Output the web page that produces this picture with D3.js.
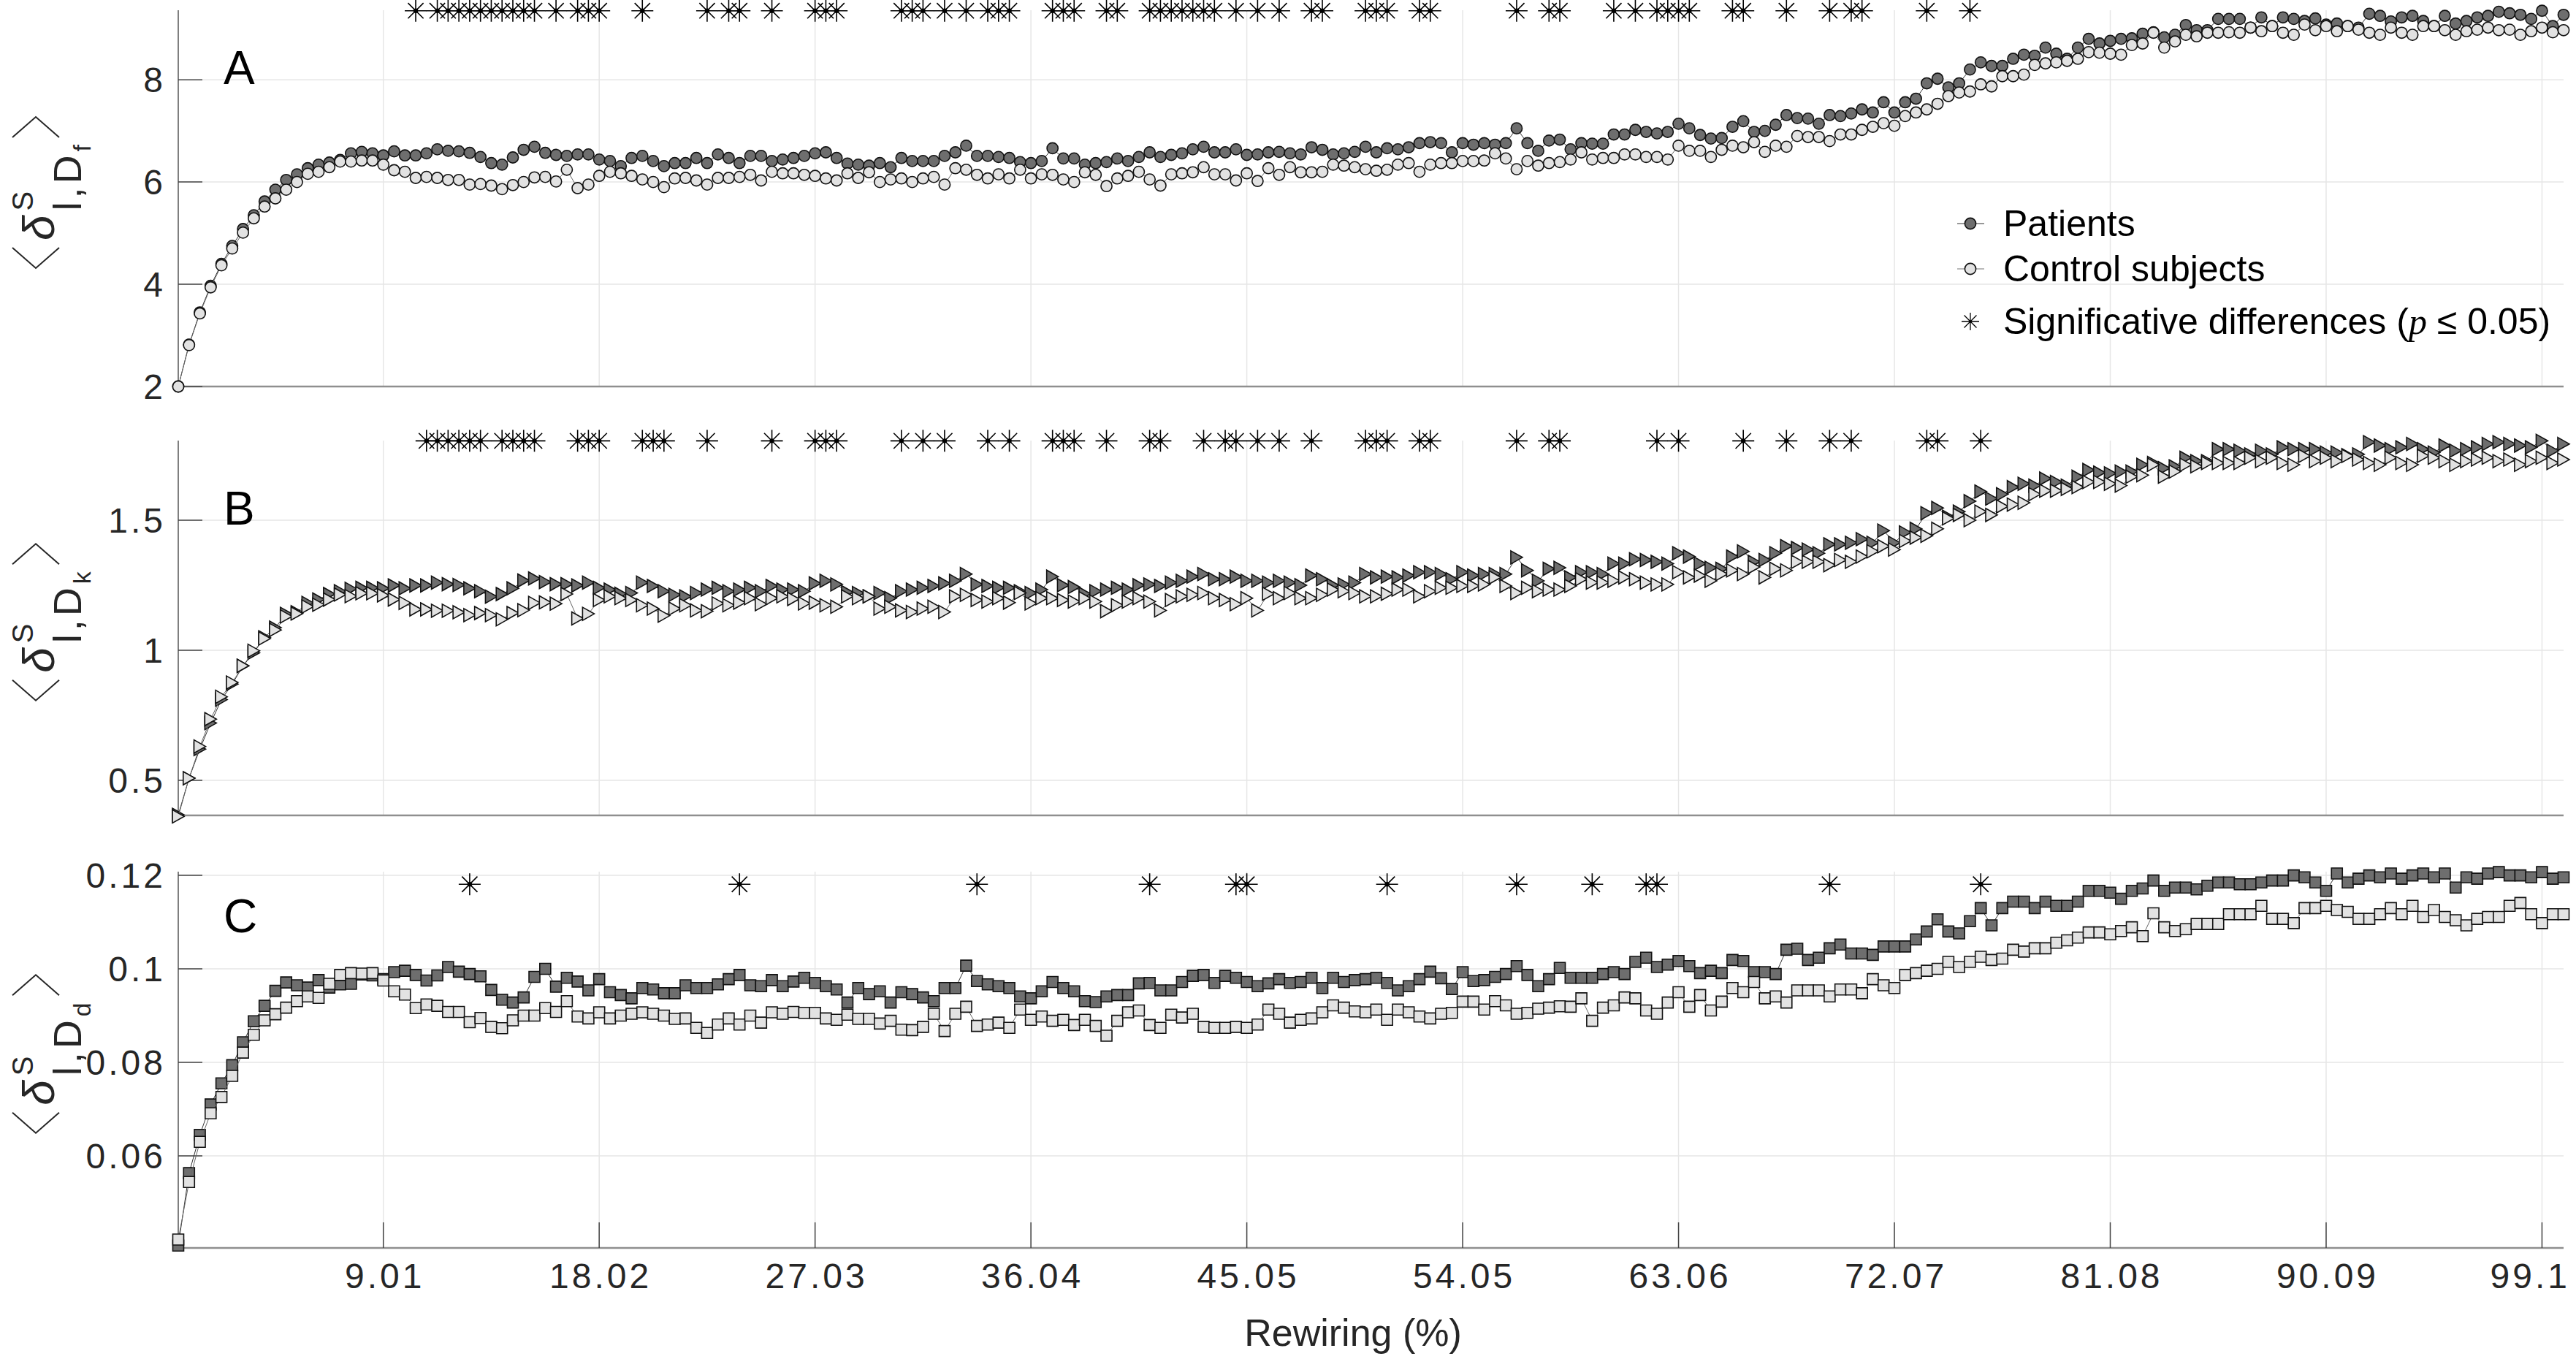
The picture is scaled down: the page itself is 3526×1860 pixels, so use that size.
<!DOCTYPE html>
<html>
<head>
<meta charset="utf-8">
<script src="https://cdn.jsdelivr.net/npm/d3@7"></script>
<style>
  html, body { margin: 0; padding: 0; background: #ffffff; }
  svg { display: block; }
  text { font-family: "Liberation Sans", Arial, Helvetica, sans-serif; }
</style>
</head>
<body>
<script>
// ---------------- DATA ----------------
const nSteps = 222;                       // rewiring steps (100/222 % each)
const rewiring = d3.range(1, nSteps + 1).map(i => i * 100 / nSteps);   // x values (%)

const xTickSteps  = [20, 40, 60, 80, 100, 120, 140, 160, 180, 200, 220];
const xTickLabels = ["9.01","18.02","27.03","36.04","45.05","54.05","63.06","72.07","81.08","90.09","99.1"];

// Panel A : <delta^S_{l,D_f}>
const fPatients = [
2.00,2.82,3.45,3.97,4.40,4.75,5.08,5.35,5.62,5.85,
6.04,6.15,6.27,6.34,6.38,6.43,6.56,6.59,6.56,6.52,
6.60,6.52,6.52,6.56,6.64,6.61,6.60,6.57,6.49,6.37,
6.34,6.48,6.63,6.69,6.57,6.53,6.51,6.54,6.54,6.44,
6.41,6.31,6.47,6.51,6.41,6.31,6.37,6.37,6.47,6.37,
6.54,6.47,6.37,6.51,6.51,6.41,6.44,6.47,6.51,6.56,
6.58,6.47,6.36,6.34,6.32,6.37,6.29,6.47,6.41,6.41,
6.41,6.51,6.58,6.71,6.51,6.51,6.49,6.47,6.39,6.37,
6.41,6.66,6.46,6.46,6.34,6.37,6.39,6.46,6.41,6.49,
6.58,6.49,6.53,6.56,6.64,6.69,6.58,6.58,6.64,6.53,
6.54,6.58,6.59,6.56,6.54,6.68,6.63,6.54,6.56,6.59,
6.69,6.58,6.66,6.64,6.68,6.76,6.78,6.76,6.58,6.76,
6.73,6.76,6.73,6.76,7.05,6.76,6.61,6.81,6.83,6.64,
6.76,6.75,6.75,6.93,6.93,7.02,6.98,6.95,6.98,7.14,
7.05,6.92,6.85,6.86,7.08,7.19,6.98,7.00,7.12,7.31,
7.25,7.24,7.14,7.31,7.29,7.34,7.42,7.36,7.56,7.36,
7.56,7.63,7.93,8.02,7.85,7.93,8.20,8.34,8.27,8.27,
8.41,8.49,8.47,8.63,8.51,8.41,8.63,8.80,8.71,8.76,
8.80,8.81,8.90,8.93,8.83,8.88,9.07,8.97,8.97,9.19,
9.19,9.19,9.02,9.22,9.05,9.22,9.19,9.15,9.20,9.08,
9.10,9.05,9.02,9.29,9.25,9.14,9.22,9.25,9.15,9.05,
9.25,9.10,9.15,9.22,9.25,9.33,9.30,9.27,9.19,9.35,
9.05,9.27];
const fControls = [
2.00,2.81,3.43,3.94,4.37,4.70,5.01,5.29,5.52,5.68,
5.85,6.00,6.16,6.20,6.29,6.40,6.40,6.42,6.42,6.34,
6.23,6.20,6.08,6.10,6.08,6.04,6.04,5.95,5.96,5.93,
5.86,5.94,6.00,6.09,6.10,6.01,6.24,5.88,5.95,6.12,
6.20,6.17,6.12,6.05,6.00,5.90,6.07,6.08,6.03,5.95,
6.08,6.08,6.10,6.14,6.03,6.20,6.17,6.17,6.14,6.12,
6.07,6.03,6.17,6.08,6.19,6.00,6.05,6.07,6.00,6.07,
6.10,5.95,6.27,6.24,6.14,6.07,6.15,6.07,6.24,6.07,
6.15,6.14,6.05,6.00,6.19,6.14,5.92,6.07,6.12,6.20,
6.05,5.93,6.15,6.17,6.19,6.29,6.15,6.15,6.03,6.17,
6.02,6.27,6.14,6.29,6.19,6.19,6.20,6.34,6.32,6.29,
6.25,6.22,6.24,6.34,6.37,6.20,6.34,6.37,6.37,6.41,
6.41,6.42,6.56,6.46,6.25,6.41,6.32,6.37,6.39,6.44,
6.58,6.44,6.47,6.47,6.54,6.54,6.49,6.49,6.44,6.71,
6.61,6.61,6.49,6.63,6.71,6.68,6.78,6.59,6.71,6.69,
6.90,6.88,6.88,6.80,6.93,6.93,7.02,7.08,7.15,7.10,
7.29,7.36,7.42,7.53,7.68,7.75,7.77,7.91,7.87,8.07,
8.07,8.10,8.29,8.32,8.34,8.37,8.41,8.54,8.53,8.51,
8.49,8.68,8.71,8.92,8.63,8.75,8.88,8.85,8.92,8.92,
8.93,8.92,9.02,8.95,9.05,8.92,8.88,9.08,8.97,9.05,
8.95,9.05,8.98,8.92,8.88,9.02,8.92,8.88,9.05,9.05,
8.97,8.88,8.95,8.98,9.02,8.97,8.98,8.88,8.95,9.02,
8.93,8.97];

// Panel B : <delta^S_{l,D_k}>
const kPatients = [
0.367,0.508,0.620,0.720,0.810,0.870,0.940,0.990,1.050,1.087,
1.140,1.146,1.182,1.195,1.216,1.227,1.236,1.240,1.240,1.238,
1.249,1.238,1.249,1.249,1.260,1.254,1.251,1.238,1.227,1.206,
1.216,1.238,1.268,1.276,1.262,1.254,1.254,1.249,1.260,1.240,
1.233,1.217,1.220,1.260,1.247,1.227,1.213,1.207,1.220,1.233,
1.240,1.227,1.233,1.240,1.227,1.247,1.233,1.233,1.227,1.257,
1.267,1.253,1.223,1.220,1.207,1.220,1.200,1.227,1.233,1.240,
1.247,1.257,1.267,1.293,1.253,1.247,1.240,1.240,1.227,1.220,
1.233,1.283,1.250,1.243,1.217,1.227,1.233,1.240,1.233,1.250,
1.253,1.247,1.260,1.267,1.283,1.293,1.273,1.273,1.283,1.267,
1.267,1.260,1.267,1.260,1.250,1.287,1.273,1.250,1.253,1.260,
1.293,1.280,1.283,1.280,1.287,1.300,1.300,1.293,1.273,1.300,
1.287,1.293,1.293,1.293,1.357,1.307,1.267,1.313,1.317,1.280,
1.300,1.300,1.293,1.333,1.333,1.350,1.347,1.340,1.333,1.373,
1.360,1.333,1.317,1.313,1.360,1.380,1.340,1.347,1.373,1.400,
1.393,1.387,1.373,1.407,1.407,1.413,1.427,1.413,1.460,1.413,
1.453,1.467,1.527,1.547,1.513,1.533,1.573,1.610,1.583,1.600,
1.627,1.640,1.633,1.660,1.647,1.633,1.667,1.693,1.683,1.680,
1.687,1.687,1.713,1.720,1.700,1.707,1.740,1.727,1.727,1.773,
1.773,1.767,1.753,1.767,1.753,1.780,1.773,1.773,1.773,1.760,
1.760,1.750,1.753,1.800,1.787,1.773,1.780,1.793,1.773,1.760,
1.787,1.767,1.773,1.780,1.793,1.800,1.793,1.787,1.780,1.805,
1.767,1.793];
const kControls = [
0.361,0.508,0.630,0.735,0.821,0.876,0.940,0.998,1.045,1.078,
1.130,1.141,1.168,1.175,1.195,1.214,1.208,1.219,1.219,1.211,
1.195,1.182,1.157,1.157,1.152,1.152,1.146,1.135,1.143,1.135,
1.119,1.143,1.154,1.182,1.184,1.179,1.216,1.122,1.140,1.193,
1.207,1.200,1.193,1.173,1.160,1.133,1.160,1.173,1.153,1.150,
1.180,1.173,1.183,1.200,1.177,1.200,1.207,1.197,1.180,1.183,
1.173,1.167,1.207,1.200,1.207,1.160,1.167,1.153,1.147,1.160,
1.167,1.147,1.207,1.213,1.193,1.187,1.200,1.183,1.220,1.180,
1.200,1.200,1.193,1.187,1.200,1.187,1.150,1.173,1.187,1.200,
1.187,1.153,1.193,1.207,1.213,1.220,1.200,1.193,1.177,1.200,
1.153,1.217,1.200,1.220,1.200,1.200,1.213,1.233,1.227,1.220,
1.207,1.207,1.217,1.233,1.233,1.207,1.227,1.240,1.240,1.247,
1.247,1.253,1.280,1.247,1.220,1.240,1.227,1.233,1.233,1.247,
1.273,1.260,1.260,1.267,1.280,1.273,1.260,1.253,1.253,1.300,
1.280,1.287,1.267,1.293,1.307,1.293,1.320,1.280,1.313,1.307,
1.340,1.340,1.340,1.327,1.347,1.340,1.360,1.380,1.400,1.387,
1.420,1.433,1.440,1.467,1.507,1.520,1.500,1.533,1.520,1.553,
1.560,1.567,1.600,1.613,1.613,1.620,1.627,1.647,1.647,1.640,
1.633,1.667,1.673,1.713,1.667,1.687,1.713,1.707,1.720,1.720,
1.720,1.720,1.740,1.727,1.740,1.720,1.713,1.747,1.727,1.740,
1.727,1.747,1.733,1.720,1.713,1.740,1.720,1.713,1.747,1.740,
1.727,1.713,1.727,1.733,1.740,1.727,1.733,1.713,1.727,1.740,
1.720,1.733];

// Panel C : <delta^S_{l,D_d}>
const dPatients = [
0.0408,0.0563,0.0645,0.0710,0.0755,0.0794,0.0843,0.0888,0.0921,0.0953,
0.0971,0.0965,0.0960,0.0976,0.0960,0.0967,0.0968,0.0988,0.0986,0.0978,
0.0993,0.0996,0.0987,0.0975,0.0986,0.1004,0.0994,0.0989,0.0984,0.0955,
0.0934,0.0928,0.0939,0.0983,0.1000,0.0962,0.0981,0.0973,0.0954,0.0978,
0.0950,0.0944,0.0937,0.0959,0.0956,0.0948,0.0948,0.0965,0.0959,0.0959,
0.0967,0.0978,0.0987,0.0965,0.0963,0.0976,0.0963,0.0973,0.0981,0.0970,
0.0963,0.0956,0.0928,0.0959,0.0946,0.0952,0.0928,0.0950,0.0946,0.0939,
0.0931,0.0959,0.0959,0.1007,0.0974,0.0967,0.0963,0.0959,0.0941,0.0937,
0.0952,0.0972,0.0959,0.0952,0.0931,0.0929,0.0941,0.0944,0.0944,0.0969,
0.0970,0.0954,0.0954,0.0972,0.0985,0.0987,0.0970,0.0985,0.0981,0.0972,
0.0963,0.0969,0.0978,0.0970,0.0972,0.0981,0.0959,0.0981,0.0972,0.0976,
0.0978,0.0981,0.0970,0.0954,0.0963,0.0978,0.0994,0.0980,0.0957,0.0993,
0.0974,0.0976,0.0983,0.0989,0.1006,0.0987,0.0963,0.0978,0.1002,0.0981,
0.0981,0.0981,0.0989,0.0993,0.0989,0.1015,0.1024,0.1004,0.1009,0.1017,
0.1006,0.0991,0.0996,0.0991,0.1019,0.1017,0.0993,0.0993,0.0989,0.1041,
0.1043,0.1019,0.1024,0.1044,0.1052,0.1033,0.1033,0.1030,0.1048,0.1048,
0.1048,0.1063,0.1080,0.1106,0.1080,0.1076,0.1102,0.1130,0.1093,0.1130,
0.1144,0.1144,0.1130,0.1144,0.1135,0.1135,0.1144,0.1167,0.1167,0.1163,
0.1150,0.1167,0.1172,0.1189,0.1167,0.1174,0.1174,0.1170,0.1178,0.1185,
0.1185,0.1181,0.1181,0.1185,0.1189,0.1189,0.1200,0.1196,0.1185,0.1167,
0.1204,0.1185,0.1193,0.1200,0.1196,0.1204,0.1193,0.1200,0.1204,0.1196,
0.1204,0.1174,0.1196,0.1193,0.1204,0.1207,0.1200,0.1200,0.1196,0.1207,
0.1193,0.1196];
const dControls = [
0.0421,0.0544,0.0630,0.0691,0.0726,0.0771,0.0821,0.0859,0.0890,0.0903,
0.0917,0.0931,0.0941,0.0938,0.0968,0.0987,0.0991,0.0990,0.0991,0.0975,
0.0952,0.0945,0.0916,0.0924,0.0921,0.0908,0.0908,0.0886,0.0895,0.0876,
0.0873,0.0890,0.0900,0.0900,0.0916,0.0908,0.0931,0.0898,0.0894,0.0907,
0.0894,0.0900,0.0904,0.0907,0.0904,0.0900,0.0893,0.0894,0.0874,0.0863,
0.0881,0.0894,0.0881,0.0900,0.0885,0.0907,0.0904,0.0908,0.0906,0.0906,
0.0894,0.0891,0.0902,0.0893,0.0893,0.0883,0.0889,0.0870,0.0869,0.0876,
0.0904,0.0867,0.0904,0.0919,0.0878,0.0881,0.0885,0.0874,0.0913,0.0891,
0.0898,0.0889,0.0891,0.0880,0.0891,0.0878,0.0857,0.0889,0.0907,0.0911,
0.0880,0.0874,0.0902,0.0896,0.0904,0.0876,0.0874,0.0874,0.0876,0.0874,
0.0881,0.0913,0.0904,0.0885,0.0891,0.0894,0.0907,0.0922,0.0917,0.0909,
0.0907,0.0913,0.0891,0.0913,0.0907,0.0898,0.0894,0.0904,0.0906,0.0930,
0.0930,0.0913,0.0931,0.0922,0.0904,0.0906,0.0915,0.0917,0.0920,0.0919,
0.0937,0.0889,0.0917,0.0922,0.0939,0.0937,0.0911,0.0904,0.0928,0.0950,
0.0919,0.0944,0.0911,0.0930,0.0959,0.0950,0.0972,0.0937,0.0941,0.0928,
0.0954,0.0954,0.0954,0.0941,0.0956,0.0956,0.0948,0.0978,0.0965,0.0959,
0.0987,0.0991,0.0996,0.1000,0.1015,0.1004,0.1015,0.1026,0.1019,0.1022,
0.1041,0.1037,0.1044,0.1044,0.1056,0.1061,0.1067,0.1078,0.1078,0.1074,
0.1081,0.1089,0.1070,0.1119,0.1089,0.1081,0.1085,0.1096,0.1096,0.1096,
0.1117,0.1117,0.1117,0.1135,0.1107,0.1107,0.1098,0.1130,0.1130,0.1135,
0.1126,0.1122,0.1107,0.1107,0.1117,0.1130,0.1117,0.1135,0.1111,0.1126,
0.1111,0.1104,0.1093,0.1107,0.1111,0.1111,0.1135,0.1141,0.1117,0.1098,
0.1117,0.1117];

// rewiring steps (1-based) with significant differences (p <= 0.05)
const sigF = [23,25,26,27,28,29,30,31,32,33,34,36,38,39,40,44,50,52,53,56,60,61,62,68,69,70,72,74,76,77,78,82,83,84,87,88,91,92,93,94,95,96,97,99,101,103,106,107,111,112,113,116,117,125,128,129,134,136,138,139,140,141,145,146,150,154,156,157,163,167];
const sigK = [24,25,26,27,28,29,31,32,33,34,38,39,40,44,45,46,50,56,60,61,62,68,70,72,76,78,82,83,84,87,91,92,96,98,99,101,103,106,111,112,113,116,117,125,128,129,138,140,146,150,154,156,163,164,168];
const sigD = [28,53,75,91,99,100,113,125,132,137,138,154,168];

const yTicksA = [2, 4, 6, 8],            yTickLabelsA = ["2","4","6","8"];
const yTicksB = [0.5, 1, 1.5],           yTickLabelsB = ["0.5","1","1.5"];
const yTicksC = [0.06, 0.08, 0.1, 0.12], yTickLabelsC = ["0.06","0.08","0.1","0.12"];

const legendLabels = ["Patients", "Control subjects"];

// ---------------- LAYOUT / STYLE ----------------
const W = 3526, H = 1860;
const colPat = "#6e6e6e", colCtl = "#e2e2e2";
const tickFont = 48, tickSpacing = 4;
const svg = d3.select("body").append("svg").attr("width", W).attr("height", H)
  .attr("viewBox", `0 0 ${W} ${H}`);
svg.append("rect").attr("width", W).attr("height", H).attr("fill", "#fff");

const x = d3.scaleLinear().domain([100 / nSteps, 100]).range([244, 3509]);
const xAt = step => x(rewiring[step - 1]);

const markerPaths = {
  circle:   d3.symbol().type(d3.symbolCircle).size(Math.PI * 7.6 * 7.6)(),
  triangle: "M-8,-9L8,0L-8,9Z",
  square:   "M-7.5,-7.5H7.5V7.5H-7.5Z"
};
const asteriskPath = "M0,-15V15M-15,0H15M-10.6,-10.6L10.6,10.6M-10.6,10.6L10.6,-10.6";

const panels = [
  { letter: "A", pat: fPatients, ctl: fControls, sig: sigF, sigY: 9.35,
    domain: [2, 9.36], range: [529, 14], ticks: yTicksA, tickLabels: yTickLabelsA,
    marker: "circle", sub: "f", showX: false, letterY: 115 },
  { letter: "B", pat: kPatients, ctl: kControls, sig: sigK, sigY: 1.805,
    domain: [0.365, 1.806], range: [1116, 603], ticks: yTicksB, tickLabels: yTickLabelsB,
    marker: "triangle", sub: "k", showX: false, letterY: 718 },
  { letter: "C", pat: dPatients, ctl: dControls, sig: sigD, sigY: 0.1181,
    domain: [0.0403, 0.1208], range: [1708, 1193], ticks: yTicksC, tickLabels: yTickLabelsC,
    marker: "square", sub: "d", showX: true, letterY: 1276 }
];

function yLabel(g, cy, sub) {
  const grp = g.append("g").attr("transform", `translate(74,${cy}) rotate(-90)`)
    .attr("fill", "#262626");
  const brW = 28;
  const delta = grp.append("text").attr("font-family", "Liberation Serif").attr("font-style", "italic")
    .attr("font-size", 62).attr("y", 0).text("δ");
  const sup = grp.append("text").attr("font-size", 40).attr("y", -29).text("S");
  const s1 = grp.append("text").attr("font-size", 54).attr("letter-spacing", 5).attr("y", 37).text("l,D");
  const s2 = grp.append("text").attr("font-size", 34).attr("y", 50).text(sub);
  const wD = delta.node().getComputedTextLength();
  const wS = sup.node().getComputedTextLength();
  const w1 = s1.node().getComputedTextLength();
  const w2 = s2.node().getComputedTextLength();
  let u = 0;
  const lb = u; u += brW + 10;
  delta.attr("x", u); u += wD + 6;
  sup.attr("x", u); s1.attr("x", u);
  s2.attr("x", u + w1);
  u = Math.max(u + wS, u + w1 + w2) + 10;
  const rb = u; u += brW;
  const total = u;
  const off = -total / 2;
  [delta, sup, s1, s2].forEach(t => t.attr("x", +t.attr("x") + off));
  grp.append("path").attr("d", `M${lb + off + brW},-57L${lb + off},-25L${lb + off + brW},7`)
    .attr("fill", "none").attr("stroke", "#262626").attr("stroke-width", 2);
  grp.append("path").attr("d", `M${rb + off},-57L${rb + off + brW},-25L${rb + off},7`)
    .attr("fill", "none").attr("stroke", "#262626").attr("stroke-width", 2);
}

panels.forEach(p => {
  const y = d3.scaleLinear().domain(p.domain).range(p.range);
  const g = svg.append("g");
  const top = p.range[1], bot = p.range[0];

  // grid
  g.selectAll(".gx").data(xTickSteps).join("line")
    .attr("x1", d => xAt(d)).attr("x2", d => xAt(d)).attr("y1", top).attr("y2", bot)
    .attr("stroke", "#e6e6e6").attr("stroke-width", 1.5);
  g.selectAll(".gy").data(p.ticks).join("line")
    .attr("x1", x.range()[0]).attr("x2", x.range()[1]).attr("y1", d => y(d)).attr("y2", d => y(d))
    .attr("stroke", "#e6e6e6").attr("stroke-width", 1.5);

  // axes lines
  g.append("line").attr("x1", x.range()[0]).attr("x2", x.range()[1]).attr("y1", bot).attr("y2", bot)
    .attr("stroke", "#8f8f8f").attr("stroke-width", 2.5);
  g.append("line").attr("x1", x.range()[0]).attr("x2", x.range()[0]).attr("y1", top).attr("y2", bot)
    .attr("stroke", "#555").attr("stroke-width", 1.5);

  // y ticks (inward) and labels
  g.selectAll(".ty").data(p.ticks).join("line")
    .attr("x1", x.range()[0]).attr("x2", x.range()[0] + 33).attr("y1", d => y(d)).attr("y2", d => y(d))
    .attr("stroke", "#444").attr("stroke-width", 1.5);
  g.selectAll(".ly").data(p.ticks).join("text")
    .attr("x", 223 + tickSpacing).attr("y", d => y(d) + 17).attr("text-anchor", "end")
    .attr("font-size", tickFont).attr("letter-spacing", tickSpacing).attr("fill", "#262626")
    .text((d, i) => p.tickLabels[i]);

  if (p.showX) {
    g.selectAll(".tx").data(xTickSteps).join("line")
      .attr("x1", d => xAt(d)).attr("x2", d => xAt(d)).attr("y1", bot).attr("y2", bot - 35)
      .attr("stroke", "#444").attr("stroke-width", 1.5);
    g.selectAll(".lx").data(xTickSteps).join("text")
      .attr("x", (d, i) => i === xTickSteps.length - 1 ? W - 8 : xAt(d) + tickSpacing / 2)
      .attr("y", 1763)
      .attr("text-anchor", (d, i) => i === xTickSteps.length - 1 ? "end" : "middle")
      .attr("font-size", tickFont).attr("letter-spacing", tickSpacing).attr("fill", "#262626")
      .text((d, i) => xTickLabels[i]);
  }

  // series: patients then controls
  [[p.pat, colPat, "#333"], [p.ctl, colCtl, "#666"]].forEach(([vals, fill, lineCol]) => {
    const line = d3.line().x((d, i) => x(rewiring[i])).y(d => y(d));
    g.append("path").attr("d", line(vals)).attr("fill", "none")
      .attr("stroke", lineCol).attr("stroke-width", 1);
    g.selectAll(null).data(vals).join("path")
      .attr("transform", (d, i) => `translate(${x(rewiring[i])},${y(d)})`)
      .attr("d", markerPaths[p.marker])
      .attr("fill", fill).attr("stroke", "#111").attr("stroke-width", 1.6);
  });

  // significance asterisks
  const ast = g.selectAll(null).data(p.sig).join("g")
    .attr("transform", d => `translate(${xAt(d)},${y(p.sigY)})`);
  ast.append("path").attr("d", asteriskPath).attr("stroke", "#000").attr("stroke-width", 1.6).attr("fill", "none");
  ast.append("circle").attr("r", 3.2).attr("fill", "#000");

  // panel letter
  g.append("text").attr("x", 306).attr("y", p.letterY).attr("font-size", 64).attr("fill", "#000").text(p.letter);

  // y label
  yLabel(g, (top + bot) / 2 - 8, p.sub);
});

// x axis title
svg.append("text").attr("x", 1852).attr("y", 1842).attr("text-anchor", "middle")
  .attr("font-size", 52).attr("fill", "#262626").text("Rewiring (%)");

// legend
const lg = svg.append("g");
const legY = [306, 368, 440];
[[colPat, "#333"], [colCtl, "#777"]].forEach(([fill, lc], i) => {
  lg.append("line").attr("x1", 2679).attr("x2", 2716).attr("y1", legY[i]).attr("y2", legY[i])
    .attr("stroke", lc).attr("stroke-width", 1.2);
  lg.append("path").attr("transform", `translate(2697,${legY[i]})`).attr("d", markerPaths.circle)
    .attr("fill", fill).attr("stroke", "#111").attr("stroke-width", 1.6);
  lg.append("text").attr("x", 2742).attr("y", legY[i] + 17).attr("font-size", 50).attr("fill", "#000")
    .text(legendLabels[i]);
});
lg.append("path").attr("transform", `translate(2697,${legY[2]}) scale(0.8)`).attr("d", asteriskPath)
  .attr("stroke", "#000").attr("stroke-width", 1.6).attr("fill", "none");
const sigT = lg.append("text").attr("x", 2742).attr("y", legY[2] + 17).attr("font-size", 50).attr("fill", "#000");
sigT.append("tspan").text("Significative differences (");
sigT.append("tspan").attr("font-style", "italic").attr("font-family", "Liberation Serif").text("p");
sigT.append("tspan").text(" ≤ 0.05)");
</script>
</body>
</html>
